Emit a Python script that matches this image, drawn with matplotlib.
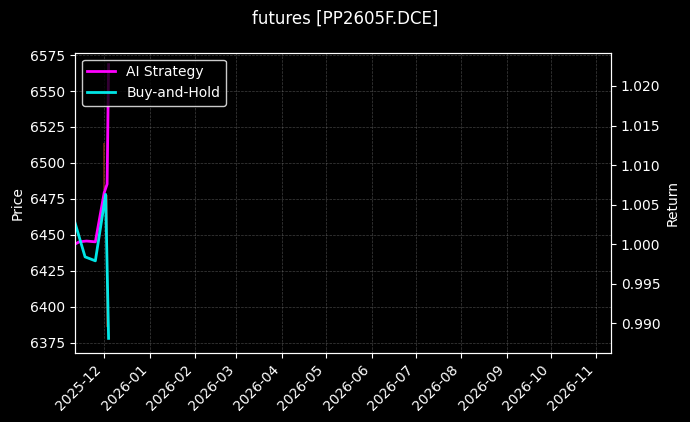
import matplotlib
matplotlib.use("Agg")
from matplotlib import pyplot as plt
import matplotlib.dates as mdates
import numpy as np
import pandas as pd

# price candles (faint, left axis)
candle_dates = pd.to_datetime(["2025-12-01", "2025-12-03"])
candle_open = [6514, 6478]
candle_close = [6481, 6386]

# strategy return curves (right axis)
ai_dates = pd.to_datetime(["2025-11-11", "2025-11-14", "2025-11-19", "2025-11-25",
                           "2025-12-01", "2025-12-03", "2025-12-04"])
ai_return = [1.0000, 1.0003, 1.0004, 1.0003, 1.0065, 1.0076, 1.0227]

bh_dates = pd.to_datetime(["2025-11-11", "2025-11-18", "2025-11-25", "2025-12-02", "2025-12-04"])
bh_return = [1.0028, 0.9984, 0.9979, 1.0063, 0.9881]

plt.style.use("dark_background")
fig = plt.figure(figsize=(6.9, 4.22), dpi=100)
ax = fig.add_axes([0.1084, 0.1635, 0.777, 0.7115])

for d, o, c in zip(candle_dates, candle_open, candle_close):
    col = "#cc4422" if c < o else "#22cc22"
    ax.vlines(d, min(o, c), max(o, c), color=col, linewidth=1.3, alpha=0.5)

ax.set_ylim(6367.8, 6576.6)
ax.set_yticks(np.arange(6375, 6576, 25))
ax.set_ylabel("Price")
ax.grid(True, linestyle="--", linewidth=0.5, color="gray", alpha=0.5)

ax2 = ax.twinx()
ax2.plot(ai_dates, ai_return, color="#ff00ff", linewidth=2, label="AI Strategy")
ax2.plot(bh_dates, bh_return, color="#00ffff", linewidth=2, alpha=0.9, label="Buy-and-Hold")
ax2.set_ylim(0.98625, 1.0242)
ax2.set_yticks([0.990, 0.995, 1.000, 1.005, 1.010, 1.015, 1.020])
ax2.yaxis.set_major_formatter(matplotlib.ticker.FormatStrFormatter("%.3f"))
ax2.set_ylabel("Return")

ax.set_xlim(pd.Timestamp("2025-11-11"), pd.Timestamp("2026-11-11"))
ax.xaxis.set_major_locator(mdates.MonthLocator())
ax.xaxis.set_major_formatter(mdates.DateFormatter("%Y-%m"))
plt.setp(ax.get_xticklabels(), rotation=45, ha="right")

leg = ax2.legend(loc="upper left", facecolor="black", edgecolor="white", framealpha=0.8)

fig.suptitle("futures [PP2605F.DCE]", fontsize=12, y=0.978)
fig.savefig("out.png", dpi=100)
